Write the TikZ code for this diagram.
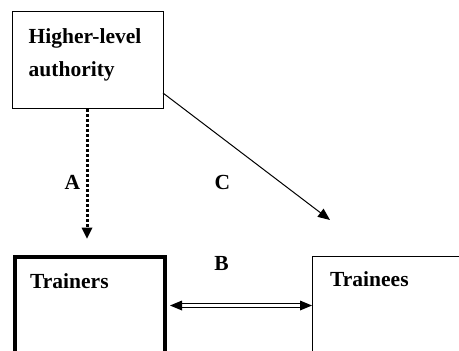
\documentclass[tikz,border=0pt]{standalone}
\usepackage{fontspec}
\setmainfont{Liberation Serif}
\usetikzlibrary{arrows.meta}
\begin{document}
\begin{tikzpicture}[x=1pt,y=-1pt,
  lbl/.style={inner sep=0pt, anchor=base west, font=\fontsize{21.5}{25}\selectfont\bfseries},
  letter/.style={inner sep=0pt, anchor=base, font=\fontsize{21.5}{25}\selectfont\bfseries},
  boxnode/.style={draw, line width=1.2pt, inner sep=0pt, anchor=north west}]
\clip (0,0) rectangle (459,351);
\fill[white] (0,0) rectangle (459,351);
% boxes
\node[boxnode, minimum width=151.5pt, minimum height=97.5pt] (auth) at (11.5,10.5) {};
\node[boxnode, line width=4.2pt, minimum width=150pt, minimum height=130pt] (trainers) at (12.5,255) {};
\node[boxnode, minimum width=180pt, minimum height=130pt] (trainees) at (312,255.5) {};
% texts
\node[lbl] (t1) at (28.5,43.3) {Higher-level};
\node[lbl] (t2) at (28.5,76) {authority};
\node[lbl] (t3) at (30,288.3) {Trainers};
\node[lbl] (t4) at (330,286.7) {Trainees};
\node[letter] (la) at (72.5,189) {A};
\node[letter] (lc) at (222.5,189) {C};
\node[letter] (lb) at (221.5,270) {B};
% connector end points
\coordinate (aend) at (87,238.5);
\coordinate (cstart) at (163,93);
\coordinate (cend) at (330,220);
\coordinate (bleft) at (170,305.5);
\coordinate (bright) at (312,305.5);
% connectors
\draw[line width=3pt, dash pattern=on 3pt off 2pt, -{Triangle[length=11pt,width=11pt,line width=0pt]}]
  (auth.south -| aend) -- (aend);
\draw[line width=1pt, -{Triangle[length=12pt,width=10pt]}] (cstart) -- (cend);
% two-way link drawn as a pair of thin rails
\draw[line width=0.9pt] ([shift={(8,-1.6)}]bleft) -- ([shift={(-8,-1.6)}]bright);
\draw[line width=0.9pt] ([shift={(8,1.6)}]bleft) -- ([shift={(-8,1.6)}]bright);
\fill (bleft) -- ++(12,-5) -- ++(0,10) -- cycle;
\fill (bright) -- ++(-12,-5) -- ++(0,10) -- cycle;
\end{tikzpicture}
\end{document}
